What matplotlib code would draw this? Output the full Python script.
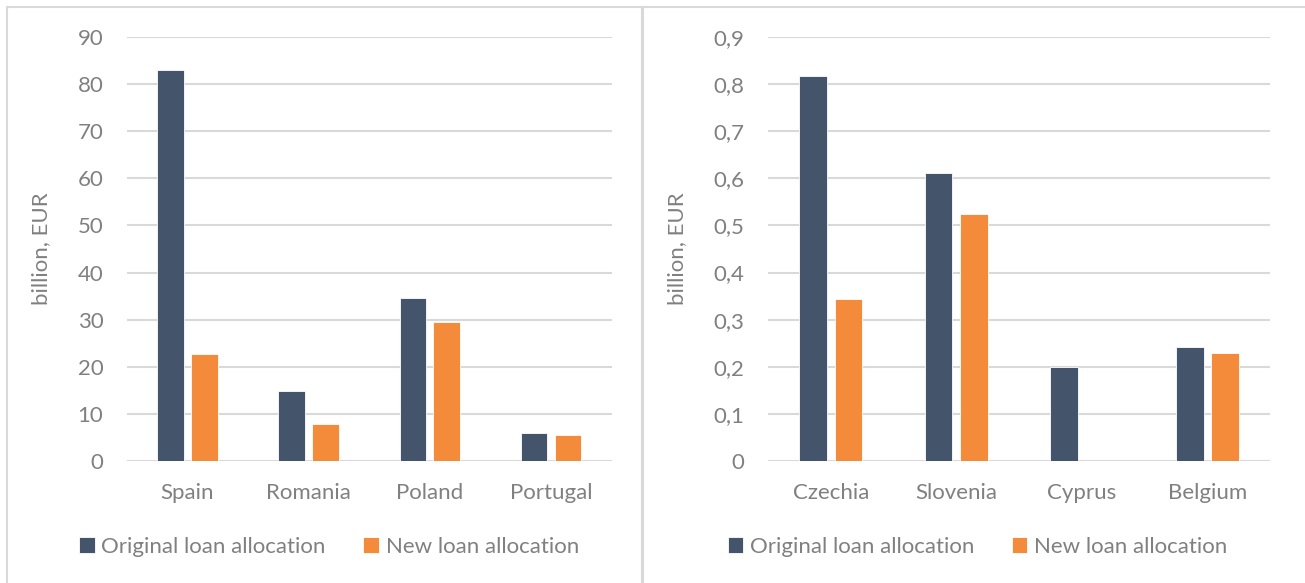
import numpy as np
import matplotlib
matplotlib.use("Agg")
import matplotlib.pyplot as plt
from matplotlib.patches import Rectangle
from matplotlib.ticker import FuncFormatter

plt.rcParams['font.family'] = ['Lato', 'DejaVu Sans']

countries_big = ['Spain', 'Romania', 'Poland', 'Portugal']
original_big = [83.1, 14.9, 34.5, 5.9]
new_big = [22.7, 7.9, 29.4, 5.5]

countries_small = ['Czechia', 'Slovenia', 'Cyprus', 'Belgium']
original_small = [0.818, 0.612, 0.2, 0.243]
new_small = [0.343, 0.525, 0.0, 0.23]

NAVY = '#44546A'
ORANGE = '#F48B3A'
TEXT = '#808080'
GRID = '#d9d9d9'
FS = 16

fig = plt.figure(figsize=(13.05, 5.83), dpi=100)

# panel frames
fig.patches.append(Rectangle((0.005, -0.01), 0.487, 0.998, transform=fig.transFigure,
                             fill=False, edgecolor=GRID, linewidth=1.5))
fig.patches.append(Rectangle((0.493, -0.01), 0.51, 0.998, transform=fig.transFigure,
                             fill=False, edgecolor=GRID, linewidth=1.5))


def draw_panel(rect, cats, orig, new, ymax, step, fmt, legend_x):
    ax = fig.add_axes(rect)
    x = np.arange(len(cats))
    w = 0.22
    ax.bar(x - 0.14, orig, w, color=NAVY, edgecolor='white', linewidth=0.6, zorder=3,
           label='Original loan allocation')
    ax.bar(x + 0.14, new, w, color=ORANGE, edgecolor='white', linewidth=0.6, zorder=3,
           label='New loan allocation')
    ax.set_xlim(-0.5, len(cats) - 0.5)
    ax.set_ylim(0, ymax)
    ax.set_yticks(np.arange(0, ymax + step / 2, step))
    ax.yaxis.set_major_formatter(FuncFormatter(fmt))
    ax.set_xticks(x)
    ax.set_xticklabels(cats)
    ax.grid(axis='y', color=GRID, linewidth=1.5, zorder=0)
    for s in ax.spines.values():
        s.set_visible(False)
    ax.tick_params(length=0, labelsize=FS, colors=TEXT, pad=17)
    ax.tick_params(axis='x', pad=16)
    ax.set_ylabel('billion, EUR', fontsize=FS, color=TEXT, labelpad=19)
    ax.legend(loc='center left', bbox_to_anchor=(legend_x, 0.062), bbox_transform=fig.transFigure,
              ncol=2, frameon=False, fontsize=FS, labelcolor=TEXT, handlelength=0.7,
              handleheight=0.7, handletextpad=0.3, columnspacing=1.7, borderpad=0)
    return ax


draw_panel([0.0973, 0.2093, 0.3713, 0.7272], countries_big, original_big, new_big,
           90, 10, lambda v, p: f'{v:.0f}', 0.052)
draw_panel([0.5885, 0.2093, 0.3847, 0.7272], countries_small, original_small, new_small,
           0.9, 0.1, lambda v, p: '0' if abs(v) < 1e-9 else f'{v:.1f}'.replace('.', ','), 0.549)

fig.savefig('out.png', dpi=100)
